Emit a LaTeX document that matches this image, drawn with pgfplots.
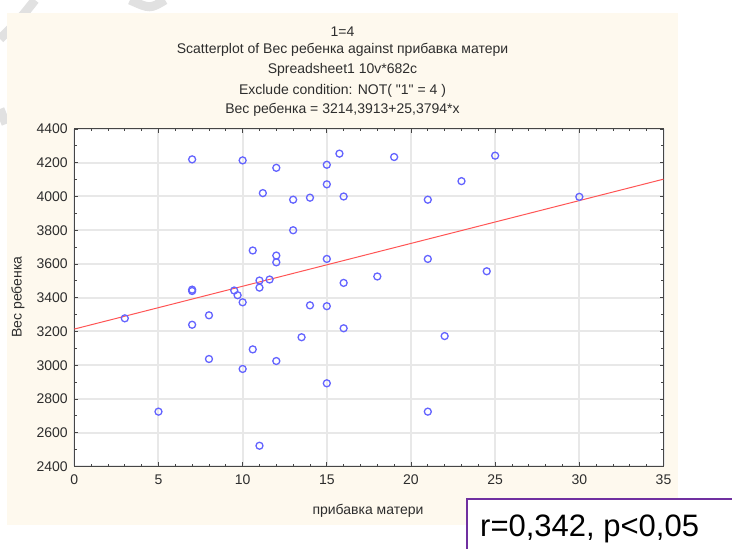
\documentclass[border=0pt]{standalone}
\usepackage{fontspec}
\setmainfont{Liberation Sans}
\newfontfamily\rawfont{Liberation Sans}
\usepackage{pgfplots}
\pgfplotsset{compat=1.18}
\definecolor{beige}{RGB}{254,249,238}
\definecolor{mkblue}{RGB}{100,100,255}
\definecolor{fitred}{RGB}{255,85,85}
\definecolor{purp}{RGB}{112,48,160}
\definecolor{gridg}{RGB}{232,232,232}
\definecolor{axg}{RGB}{70,70,70}
\definecolor{txt}{RGB}{45,45,45}
\definecolor{wm}{RGB}{225,225,225}
\begin{document}
\begin{tikzpicture}[x=1pt,y=1pt]
\useasboundingbox (0,0) rectangle (732,549);
\fill[white] (0,0) rectangle (732,549);
% faint watermark strokes
\draw[wm, line width=9pt] (35,549) .. controls (20,530) .. (0,510);
\draw[wm, line width=9pt] (130,549) .. controls (150,540) .. (165,549);
\draw[wm, line width=9pt] (0,440) -- (6,425);
\fill[beige] (7,24) rectangle (678,536);
\begin{axis}[
  at={(74.3pt,82.5pt)}, anchor=south west,
  scale only axis, width=589.2pt, height=337.5pt,
  xmin=0, xmax=35, ymin=2400, ymax=4400,
  xtick={0,5,...,35}, ytick={2400,2600,...,4400},
  minor x tick num=4, minor y tick num=1,
  tick align=inside,
  major tick length=4pt, minor tick length=2.5pt,
  every tick/.style={axg, line width=0.8pt},
  grid=major,
  major grid style={gridg, line width=2pt},
  axis line style={axg, line width=1pt},
  axis background/.style={fill=white},
  /pgf/number format/assume math mode=true,
  /pgf/number format/1000 sep={},
  tick label style={font=\fontsize{14}{17}\selectfont, text=txt},
  yticklabel style={xshift=-3pt},
  xticklabel style={yshift=-5pt},
  clip=false,
]
\addplot[only marks, mark=o, mark size=3.5pt, mkblue, mark options={line width=1.3pt}] coordinates {
(7,4220) (10,4214) (12,4170) (11.2,4020) (13,3981) (14,3993) (15,4188)
(15.75,4254) (15,4072) (16,4000) (13,3800) (10.6,3680) (12,3650) (12,3610)
(15,3630) (11,3502) (11.6,3508) (11,3460) (16,3488) (18,3526) (7,3448)
(7,3440) (9.5,3443) (9.7,3415) (10,3373) (19,4234) (25,4242) (23,4091)
(21,3981) (30,3998) (21,3630) (24.5,3557) (3,3278) (7,3240) (8,3296)
(14,3355) (15,3350) (16,3219) (13.5,3166) (10.6,3094) (8,3037) (12,3025)
(10,2978) (15,2893) (5,2725) (11,2523) (22,3173) (21,2725)
};
\addplot[fitred, line width=1pt] coordinates {(0,3214.3913) (35,4102.6703)};
\end{axis}
\begin{scope}[every node/.style={font=\fontsize{14}{17}\selectfont, text=txt}]
\node at (342.5,517.3) {1=4};
\node at (342.5,499) {Scatterplot of Вес ребенка against прибавка матери};
\node at (342.5,479) {Spreadsheet1 10v*682c};
\node at (342.5,458) {\rawfont Exclude condition: NOT( "1" = 4 )};
\node at (342.5,439) {Вес ребенка = 3214,3913+25,3794*x};
\node at (368,38) {прибавка матери};
\node[rotate=90] at (18,252) {Вес ребенка};
\end{scope}
\fill[white] (467,-5) rectangle (740,50);
\draw[purp, line width=2pt] (740,50) -- (467,50) -- (467,-5);
\node[anchor=base west, inner sep=0, font=\fontsize{31}{36}\selectfont] at (480,12) {r=0,342, p<0,05};
\end{tikzpicture}
\end{document}
